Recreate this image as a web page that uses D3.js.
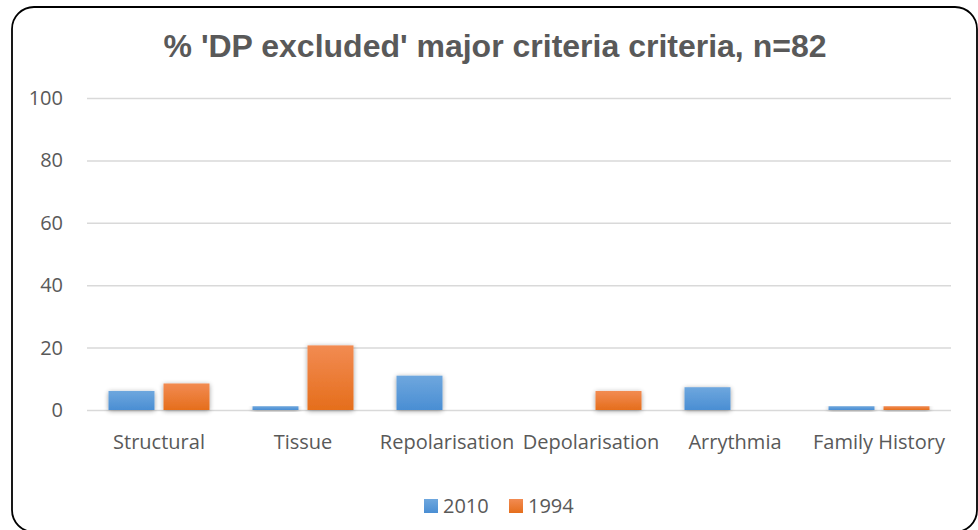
<!DOCTYPE html>
<html>
<head>
<meta charset="utf-8">
<script src="https://cdn.jsdelivr.net/npm/d3@7"></script>
<style>
  html, body { margin: 0; padding: 0; background: #ffffff; }
  svg { display: block; }
</style>
</head>
<body>
<svg id="chart" width="978" height="530"></svg>
<script>
// Share of DP-excluded patients meeting each major criterion (n = 82)
const categories = ["Structural", "Tissue", "Repolarisation", "Depolarisation", "Arrythmia", "Family History"];
const seriesNames = ["2010", "1994"];
const values2010 = [6.1, 1.2, 11.0, 0, 7.3, 1.2];
const values1994 = [8.5, 20.7, 0, 6.1, 0, 1.2];
const yTicks = [0, 20, 40, 60, 80, 100];

const svg = d3.select("#chart");
const plotLeft = 87, plotRight = 951, plotTop = 98, plotBottom = 410;
const labelFont = "'Open Sans', sans-serif";
const textColor = "#595959";

const defs = svg.append("defs");
function gradient(id, top, bottom) {
  const g = defs.append("linearGradient").attr("id", id)
    .attr("x1", 0).attr("y1", 0).attr("x2", 0).attr("y2", 1);
  g.append("stop").attr("offset", "0%").attr("stop-color", top);
  g.append("stop").attr("offset", "100%").attr("stop-color", bottom);
}
gradient("g2010", "#6ea7de", "#4a8ed3");
gradient("g1994", "#f28b52", "#e56e1c");

const shadow = defs.append("filter").attr("id", "barShadow")
  .attr("x", "-30%").attr("y", "-30%").attr("width", "160%").attr("height", "160%");
shadow.append("feGaussianBlur").attr("in", "SourceAlpha").attr("stdDeviation", 2.5).attr("result", "blur");
shadow.append("feOffset").attr("in", "blur").attr("dx", 0).attr("dy", 1).attr("result", "off");
shadow.append("feComponentTransfer").attr("in", "off").attr("result", "soft")
  .append("feFuncA").attr("type", "linear").attr("slope", 0.38);
const merge = shadow.append("feMerge");
merge.append("feMergeNode").attr("in", "soft");
merge.append("feMergeNode").attr("in", "SourceGraphic");

// Rounded chart frame
svg.append("rect")
  .attr("x", 12).attr("y", 7).attr("width", 965).attr("height", 525)
  .attr("rx", 22).attr("ry", 22)
  .attr("fill", "#ffffff").attr("stroke", "#000000").attr("stroke-width", 1.8);

// Title
svg.append("text")
  .attr("x", 495).attr("y", 57)
  .attr("text-anchor", "middle")
  .attr("font-family", "'Liberation Sans', Arial, sans-serif")
  .attr("font-weight", "bold").attr("font-size", 32)
  .attr("fill", textColor)
  .text("% 'DP excluded' major criteria criteria, n=82");

const x0 = d3.scaleBand().domain(categories).range([plotLeft, plotRight]).padding(0);
const x1 = d3.scaleBand().domain(seriesNames).range([0, x0.bandwidth()])
  .paddingInner(0.164).paddingOuter(0.391);
const y = d3.scaleLinear().domain([0, 100]).range([plotBottom, plotTop]);

// Gridlines and value labels
const yAxis = d3.axisLeft(y).tickValues(yTicks).tickSize(-(plotRight - plotLeft)).tickPadding(24);
const yg = svg.append("g").attr("transform", `translate(${plotLeft},0)`).call(yAxis);
yg.select(".domain").remove();
yg.selectAll(".tick line").attr("stroke", "#d9d9d9").attr("stroke-width", 1.5);
yg.selectAll(".tick text")
  .attr("font-family", labelFont).attr("font-size", 20)
  .attr("fill", textColor);

// Bars
const colors = { "2010": "url(#g2010)", "1994": "url(#g1994)" };
const rows = categories.map((c, i) => ({ cat: c, vals: [
  { key: "2010", v: values2010[i] }, { key: "1994", v: values1994[i] } ] }));
const groups = svg.append("g").selectAll("g").data(rows).join("g")
  .attr("transform", d => `translate(${x0(d.cat)},0)`);
groups.selectAll("rect").data(d => d.vals.filter(e => e.v > 0)).join("rect")
  .attr("x", d => x1(d.key)).attr("width", x1.bandwidth())
  .attr("y", d => y(d.v)).attr("height", d => y(0) - y(d.v))
  .attr("fill", d => colors[d.key])
  .attr("filter", "url(#barShadow)");

// Category axis
const xAxis = d3.axisBottom(x0).tickSize(0).tickPadding(25);
const xg = svg.append("g").attr("transform", `translate(0,${plotBottom})`).call(xAxis);
xg.select(".domain").remove();
xg.selectAll(".tick text")
  .attr("font-family", labelFont).attr("font-size", 20)
  .attr("fill", textColor);

// Legend
const legend = svg.append("g").attr("transform", "translate(424,499)");
const items = [{ name: "2010", fill: "url(#g2010)", x: 0 }, { name: "1994", fill: "url(#g1994)", x: 85 }];
const li = legend.selectAll("g").data(items).join("g").attr("transform", d => `translate(${d.x},0)`);
li.append("rect").attr("width", 14).attr("height", 14).attr("fill", d => d.fill);
li.append("text").attr("x", 19).attr("y", 14)
  .attr("font-family", labelFont).attr("font-size", 20)
  .attr("fill", textColor).text(d => d.name);
</script>
</body>
</html>
